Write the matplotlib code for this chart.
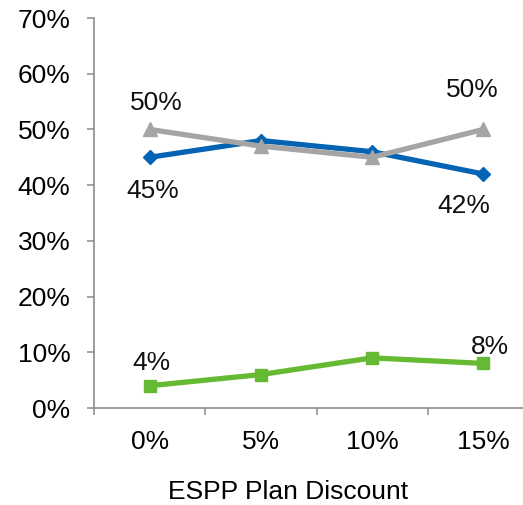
import matplotlib
matplotlib.use("Agg")
import matplotlib.pyplot as plt
from matplotlib.ticker import FixedLocator, NullFormatter, FixedFormatter

plt.rcParams['font.family'] = ['Liberation Sans', 'DejaVu Sans']

categories = ["0%", "5%", "10%", "15%"]
blue_vals = [45, 48, 46, 42]
gray_vals = [50, 47, 45, 50]
green_vals = [4, 6, 9, 8]
y_ticks = [0, 10, 20, 30, 40, 50, 60, 70]
x_label = "ESPP Plan Discount"

BLUE = "#0563b4"
GRAY = "#a5a5a5"
GREEN = "#66b933"
AXIS = "#8c8c8c"
FS = 19

fig = plt.figure(figsize=(5.23, 5.05), dpi=100)
ax = fig.add_axes([94 / 523, 97 / 505, 445 / 523, 390 / 505])

x = list(range(1, len(categories) + 1))
ax.plot(x, blue_vals, color=BLUE, lw=3.8, marker="D", ms=7, zorder=3, solid_capstyle="butt")
ax.plot(x, gray_vals, color=GRAY, lw=3.8, marker="^", ms=10, zorder=4, solid_capstyle="butt")
ax.plot(x, green_vals, color=GREEN, lw=3.8, marker="s", ms=9, zorder=3, solid_capstyle="butt")

# value labels (pixel offsets from the marker)
def label(xi, v, dx, dy):
    ax.annotate(f"{v}%", (xi, v), xytext=(dx * 0.72, -dy * 0.72), textcoords="offset points",
                ha="center", va="center", fontsize=FS, color="#111111")

label(x[0], gray_vals[0], 7, -26)
label(x[3], gray_vals[3], -11, -39)
label(x[0], blue_vals[0], 3, 34)
label(x[3], blue_vals[3], -20, 32)
label(x[0], green_vals[0], 2, -23)
label(x[3], green_vals[3], 7, -16)

ax.set_xlim(0.5, len(categories) + 0.5)
ax.set_ylim(0, 70)

ax.xaxis.set_major_locator(FixedLocator([i + 0.5 for i in range(len(categories) + 1)]))
ax.xaxis.set_major_formatter(NullFormatter())
ax.xaxis.set_minor_locator(FixedLocator(x))
ax.xaxis.set_minor_formatter(FixedFormatter(categories))
ax.tick_params(axis="x", which="major", length=5, width=1.1, color=AXIS, direction="out")
ax.tick_params(axis="x", which="minor", length=0, pad=16, labelsize=FS)

ax.set_yticks(y_ticks)
ax.set_yticklabels([f"{t}%" for t in y_ticks])
ax.tick_params(axis="y", length=5, width=1.1, color=AXIS, pad=12, labelsize=FS)

for s in ("top", "right"):
    ax.spines[s].set_visible(False)
for s in ("left", "bottom"):
    ax.spines[s].set_color(AXIS)
    ax.spines[s].set_linewidth(1.2)

fig.text(288 / 523, 1 - 492 / 505, x_label, ha="center", va="center", fontsize=FS)

fig.savefig("out.png", dpi=100)
